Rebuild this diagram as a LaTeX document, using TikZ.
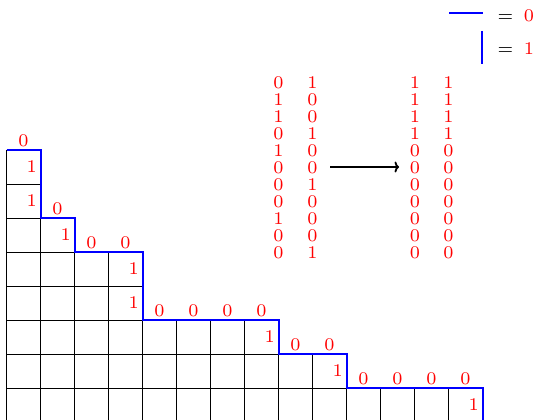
\documentclass[tikz,border=0pt]{standalone}
\usetikzlibrary{arrows.meta}
\newcommand{\smallfig}[1]{\scalebox{2.55}{\fontsize{7}{7}\selectfont #1}}
\begin{document}
\begin{tikzpicture}[x=1pt,y=-1pt,
  digit/.style={text=red, inner sep=0pt},
  eqsign/.style={text=black, inner sep=0pt},
  gridline/.style={black, line width=1pt},
  stair/.style={blue, line width=2pt},
  maparrow/.style={-{To[width=11pt,length=4.5pt]}, black, line width=1.8pt}]
\useasboundingbox (0,0) rectangle (536,420);
\clip (0,0) rectangle (536,420);

% grid and staircase
\begin{scope}[shift={(6.5,150)}, x=34pt, y=-34pt]
  \foreach \c/\t in {0/0,1/2,2/3,3/3,4/5,5/5,6/5,7/5,8/6,9/6,10/7,11/7,12/7,13/7}
    \foreach \r in {\t,...,8}
      \draw[gridline] (\c,\r) rectangle ++(1,1);
  \draw[stair] (0,0) -| (1,2) -| (2,3) -| (4,5) -| (8,6) -| (10,7) -| (14,9);
  \foreach \c/\r [count=\i] in {0/0,1/2,2/3,3/3,4/5,5/5,6/5,7/5,8/6,9/6,10/7,11/7,12/7,13/7}
    \node[digit] (zero\i) at (\c+0.5,\r-0.265) {\smallfig{0}};
  \foreach \c/\r [count=\i] in {1/0,1/1,2/2,4/3,4/4,8/5,10/6,14/7}
    \node[digit] (one\i) at (\c-0.26,\r+0.5) {\smallfig{1}};
\end{scope}

% legend
\coordinate (lha) at (449,13);
\coordinate (lhb) at (483,13);
\draw[stair] (lha) -- (lhb);
\node[eqsign, anchor=base] (leq1) at (505.5,22) {\smallfig{$=$}};
\node[digit, anchor=base] (lzero) at (529,22) {\smallfig{0}};
\coordinate (lva) at (482,31);
\coordinate (lvb) at (482,64);
\draw[stair] (lva) -- (lvb);
\node[eqsign, anchor=base] (leq2) at (505.5,54.5) {\smallfig{$=$}};
\node[digit, anchor=base] (lone) at (529,54.5) {\smallfig{1}};

% sequences
\foreach \a/\b/\cc/\d [count=\k] in {0/1/1/1,1/0/1/1,1/0/1/1,0/1/1/1,1/0/0/0,0/0/0/0,0/1/0/0,0/0/0/0,1/0/0/0,0/0/0/0,0/1/0/0}{
  \node[digit] (ma\k) at (278.5,66+17*\k) {\smallfig{\a}};
  \node[digit] (mb\k) at (312.5,66+17*\k) {\smallfig{\b}};
  \node[digit] (mc\k) at (415,66+17*\k) {\smallfig{\cc}};
  \node[digit] (md\k) at (448.5,66+17*\k) {\smallfig{\d}};
}
\coordinate (arrowstart) at (330,167);
\coordinate (arrowend) at (399,167);
\draw[maparrow] (arrowstart) -- (arrowend);
\end{tikzpicture}
\end{document}
